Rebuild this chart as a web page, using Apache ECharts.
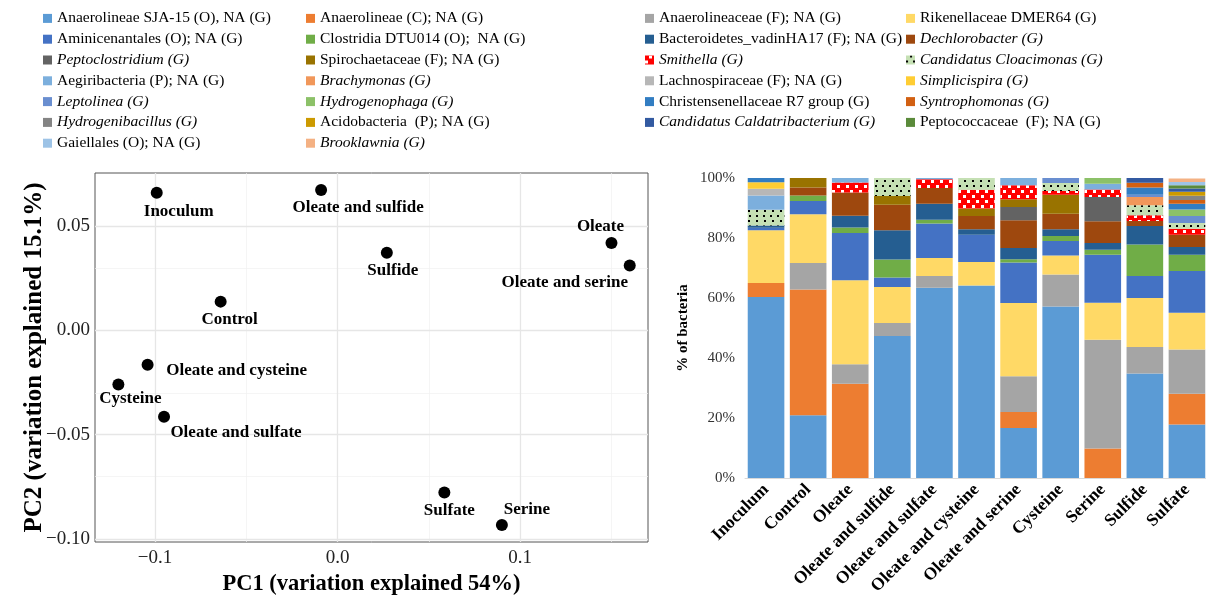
<!DOCTYPE html>
<html>
<head>
<meta charset="utf-8">
<script src="https://cdn.jsdelivr.net/npm/echarts@6/dist/echarts.min.js"></script>
<style>
html,body{margin:0;padding:0;background:#fff;}
#main{width:1206px;height:596px;}
</style>
</head>
<body>
<div id="main"></div>
<script>
//PCoA scores
var sampleNames = ['Inoculum','Oleate and sulfide','Sulfide','Oleate','Oleate and serine','Control','Oleate and cysteine','Cysteine','Oleate and sulfate','Sulfate','Serine'];
var pc1 = [-0.099, -0.009, 0.027, 0.150, 0.160, -0.064, -0.104, -0.120, -0.095, 0.0585, 0.090];
var pc2 = [0.066, 0.0673, 0.0373, 0.0419, 0.0311, 0.0138, -0.0165, -0.0259, -0.0414, -0.0778, -0.0933];
var pcTicksX = [-0.1, 0, 0.1];
var pcTicksY = [-0.1, -0.05, 0, 0.05];
var pcMinorX = [-0.05, 0.05, 0.15];
var pcMinorY = [-0.075, -0.025, 0.025];
//label offsets (px) for each point
var labelOffsets = [[22,19],[37,18],[6,18],[-11,-16],[-65,17],[9,18],[89,6],[12,14],[72,16],[5,18],[25,-15]];

//relative abundance (%)
var categories = ['Inoculum','Control','Oleate','Oleate and sulfide','Oleate and sulfate','Oleate and cysteine','Oleate and serine','Cysteine','Serine','Sulfide','Sulfate'];
var taxa = [
    'Anaerolineae SJA-15 (O), NA (G)','Anaerolineae (C); NA (G)','Anaerolineaceae (F); NA (G)','Rikenellaceae DMER64 (G)',
    'Aminicenantales (O); NA (G)','Clostridia DTU014 (O);  NA (G)','Bacteroidetes_vadinHA17 (F); NA (G)','Dechlorobacter (G)',
    'Peptoclostridium (G)','Spirochaetaceae (F); NA (G)','Smithella (G)','Candidatus Cloacimonas (G)',
    'Aegiribacteria (P); NA (G)','Brachymonas (G)','Lachnospiraceae (F); NA (G)','Simplicispira (G)',
    'Leptolinea (G)','Hydrogenophaga (G)','Christensenellaceae R7 group (G)','Syntrophomonas (G)',
    'Hydrogenibacillus (G)','Acidobacteria  (P); NA (G)','Candidatus Caldatribacterium (G)','Peptococcaceae  (F); NA (G)',
    'Gaiellales (O); NA (G)','Brooklawnia (G)'
];
var italicTaxa = ['Dechlorobacter (G)','Peptoclostridium (G)','Smithella (G)','Candidatus Cloacimonas (G)','Brachymonas (G)','Simplicispira (G)','Leptolinea (G)','Hydrogenophaga (G)','Syntrophomonas (G)','Hydrogenibacillus (G)','Candidatus Caldatribacterium (G)','Brooklawnia (G)'];

var sja15 = [60.3, 20.9, 0, 47.3, 63.4, 64.2, 16.7, 57.2, 0, 34.8, 17.8];
var anaerolineaeC = [4.7, 41.9, 31.4, 0, 0, 0, 5.3, 0, 9.8, 0, 10.3];
var anaerolineaceae = [0, 8.9, 6.5, 4.4, 3.9, 0, 11.9, 10.6, 36.3, 8.9, 14.7];
var rikenellaceae = [17.6, 16.2, 28.0, 12.0, 6.0, 7.8, 24.4, 6.4, 12.3, 16.3, 12.3];
var aminicenantales = [0.8, 4.4, 15.8, 3.1, 11.5, 9.1, 13.5, 4.8, 16.0, 7.3, 13.9];
var clostridiaDTU014 = [0, 1.9, 1.8, 6.0, 1.3, 0, 1.1, 1.7, 1.7, 10.5, 5.4];
var vadinHA17 = [0.8, 0, 3.9, 9.8, 5.3, 1.8, 3.8, 2.2, 2.2, 6.2, 2.6];
var dechlorobacter = [0, 2.6, 7.8, 8.5, 5.3, 4.4, 9.2, 5.2, 7.3, 1.7, 4.1];
var peptoclostridium = [0, 0, 0, 0, 0, 0, 4.4, 0, 8.1, 0, 0];
var spirochaetaceae = [0, 3.2, 0, 2.9, 0, 2.5, 2.6, 6.3, 0, 0, 0];
var smithella = [0, 0, 3.3, 0, 2.9, 6.3, 4.7, 1.3, 2.5, 1.9, 2.0];
var cloacimonas = [5.2, 0, 0, 6.0, 0, 3.9, 0, 2.6, 0, 3.3, 1.9];
var aegiribacteria = [4.8, 0, 1.6, 0, 0.4, 0, 2.4, 0, 1.9, 0, 0];
var brachymonas = [0, 0, 0, 0, 0, 0, 0, 0, 0, 2.8, 0];
var lachnospiraceae = [2.2, 0, 0, 0, 0, 0, 0, 0, 0, 0, 0];
var simplicispira = [2.2, 0, 0, 0, 0, 0, 0, 0, 0, 0, 0];
var leptolinea = [0, 0, 0, 0, 0, 0, 0, 1.7, 0, 0.7, 2.3];
var hydrogenophaga = [0, 0, 0, 0, 0, 0, 0, 0, 1.9, 0, 2.2];
var christensenellaceae = [1.4, 0, 0, 0, 0, 0, 0, 0, 0, 2.4, 1.9];
var syntrophomonas = [0, 0, 0, 0, 0, 0, 0, 0, 0, 1.6, 1.3];
var hydrogenibacillus = [0, 0, 0, 0, 0, 0, 0, 0, 0, 0, 1.4];
var acidobacteria = [0, 0, 0, 0, 0, 0, 0, 0, 0, 0, 1.3];
var caldatribacterium = [0, 0, 0, 0, 0, 0, 0, 0, 0, 1.6, 1.1];
var peptococcaceae = [0, 0, 0, 0, 0, 0, 0, 0, 0, 0, 1.1];
var gaiellales = [0, 0, 0, 0, 0, 0, 0, 0, 0, 0, 1.1];
var brooklawnia = [0, 0, 0, 0, 0, 0, 0, 0, 0, 0, 1.1];

var abundance = [sja15, anaerolineaeC, anaerolineaceae, rikenellaceae, aminicenantales, clostridiaDTU014, vadinHA17, dechlorobacter,
    peptoclostridium, spirochaetaceae, smithella, cloacimonas, aegiribacteria, brachymonas, lachnospiraceae, simplicispira,
    leptolinea, hydrogenophaga, christensenellaceae, syntrophomonas, hydrogenibacillus, acidobacteria, caldatribacterium,
    peptococcaceae, gaiellales, brooklawnia];

var colors = ['#5B9BD5','#ED7D31','#A5A5A5','#FFD966','#4472C4','#70AD47','#255E91','#9E480E',
    '#636363','#997300','#FF0000','#C5E0B4','#7CAFDD','#F1975A','#B7B7B7','#FFCD33',
    '#698ED0','#8CC168','#327DC2','#D26012','#848484','#CC9A00','#335AA1','#5A8A3A',
    '#9DC3E6','#F4B183'];

var FONT = 'Liberation Serif';

function fmt(v, d){
    var s = Math.abs(v) < 1e-9 ? (0).toFixed(d) : v.toFixed(d);
    return s.replace('-', '\u2212');
}

var myChart = echarts.init(document.getElementById('main'));

//网格线
var gridLines = [];
pcMinorX.forEach(function(v){ gridLines.push({xAxis: v, lineStyle: {color: '#f0f0f0', width: 0.7, type: 'solid'}}); });
pcMinorY.forEach(function(v){ gridLines.push({yAxis: v, lineStyle: {color: '#f0f0f0', width: 0.7, type: 'solid'}}); });
pcTicksX.forEach(function(v){ gridLines.push({xAxis: v, lineStyle: {color: '#e6e6e6', width: 1.3, type: 'solid'}}); });
pcTicksY.forEach(function(v){ gridLines.push({yAxis: v, lineStyle: {color: '#e6e6e6', width: 1.3, type: 'solid'}}); });

var series = [{
    type: 'line',
    xAxisIndex: 0, yAxisIndex: 0,
    data: [],
    silent: true,
    z: 1,
    markLine: {z: 1, silent: true, symbol: ['none','none'], label: {show: false}, animation: false, data: gridLines}
}, {
    type: 'scatter',
    xAxisIndex: 0, yAxisIndex: 0,
    symbolSize: 12,
    z: 6,
    itemStyle: {color: '#000', opacity: 1},
    label: {show: true, position: 'inside', formatter: '{b}', fontFamily: FONT, fontWeight: 'bold', fontSize: 17, color: '#000'},
    data: sampleNames.map(function(n, i){
        return {name: n, value: [pc1[i], pc2[i]], label: {offset: labelOffsets[i]}};
    })
}];

var decals = {
    10: {symbol: 'rect', symbolSize: 1, color: '#ffffff', dashArrayX: [[2.5, 5.5], [0, 4, 2.5, 1.5]], dashArrayY: [2.5, 2]},
    11: {symbol: 'rect', symbolSize: 1, color: '#000000', dashArrayX: [[2, 5], [0, 3.5, 2, 1.5]], dashArrayY: [2, 2.5]}
};

taxa.forEach(function(t, i){
    var st = {color: colors[i]};
    if (decals[i]) st.decal = decals[i];
    series.push({
        name: t,
        type: 'bar',
        stack: 'total',
        xAxisIndex: 1, yAxisIndex: 1,
        barCategoryGap: '13%',
        itemStyle: st,
        data: abundance[i]
    });
});

var colLeft = [43, 306, 645, 906];
var legends = colLeft.map(function(left, c){
    return {
        orient: 'vertical',
        left: left, top: 8,
        padding: 0,
        itemWidth: 9, itemHeight: 9, itemGap: 0,
        icon: 'rect',
        selectedMode: false,
        textStyle: {fontFamily: FONT, fontSize: 15.5, color: '#000', lineHeight: 20.8},
        data: taxa.filter(function(t, i){ return i % 4 === c; }).map(function(t){
            var d = {name: t};
            if (italicTaxa.indexOf(t) >= 0) d.textStyle = {fontStyle: 'italic'};
            return d;
        })
    };
});

var option = {
    backgroundColor: '#fff',
    animation: false,
    textStyle: {fontFamily: FONT},
    legend: legends,
    grid: [
        {left: 95, top: 173, width: 553, height: 369, show: true, borderColor: '#555', borderWidth: 1, backgroundColor: '#fff', containLabel: false, outerBoundsMode: 'none'},
        {left: 745, top: 178, width: 463, height: 300, containLabel: false, outerBoundsMode: 'none'}
    ],
    xAxis: [{
        gridIndex: 0, type: 'value', min: -0.1328, max: 0.170,
        axisLine: {show: false},
        axisTick: {show: true, length: 4, customValues: pcTicksX, lineStyle: {color: '#333'}},
        axisLabel: {customValues: pcTicksX, formatter: function(v){ return fmt(v, 1); }, fontFamily: FONT, fontSize: 19, color: '#222', margin: 7},
        splitLine: {show: false},
        name: 'PC1 (variation explained 54%)', nameLocation: 'middle', nameGap: 31, nameMoveOverlap: false,
        nameTextStyle: {fontFamily: FONT, fontWeight: 'bold', fontSize: 22.5, color: '#000'}
    }, {
        gridIndex: 1, type: 'category', data: categories,
        axisLine: {lineStyle: {color: '#d9d9d9'}},
        axisTick: {show: false},
        axisLabel: {rotate: 45, interval: 0, fontFamily: FONT, fontWeight: 'bold', fontSize: 17.5, color: '#000', margin: 9}
    }],
    yAxis: [{
        gridIndex: 0, type: 'value', min: -0.1015, max: 0.0755,
        axisLine: {show: false},
        axisTick: {show: true, length: 4, customValues: pcTicksY, lineStyle: {color: '#333'}},
        axisLabel: {customValues: pcTicksY, formatter: function(v){ return fmt(v, 2); }, fontFamily: FONT, fontSize: 19, color: '#222', margin: 5},
        splitLine: {show: false},
        name: 'PC2 (variation explained 15.1%)', nameLocation: 'middle', nameGap: 48, nameMoveOverlap: false,
        nameTextStyle: {fontFamily: FONT, fontWeight: 'bold', fontSize: 25, color: '#000'}
    }, {
        gridIndex: 1, type: 'value', min: 0, max: 100, interval: 20,
        axisLine: {show: false}, axisTick: {show: false},
        splitLine: {show: false},
        axisLabel: {formatter: '{value}%', fontFamily: FONT, fontSize: 15, color: '#333', margin: 10},
        name: '% of bacteria', nameLocation: 'middle', nameGap: 54, nameMoveOverlap: false,
        nameTextStyle: {fontFamily: FONT, fontWeight: 'bold', fontSize: 15, color: '#000'}
    }],
    series: series
};
myChart.setOption(option);
</script>
</body>
</html>
